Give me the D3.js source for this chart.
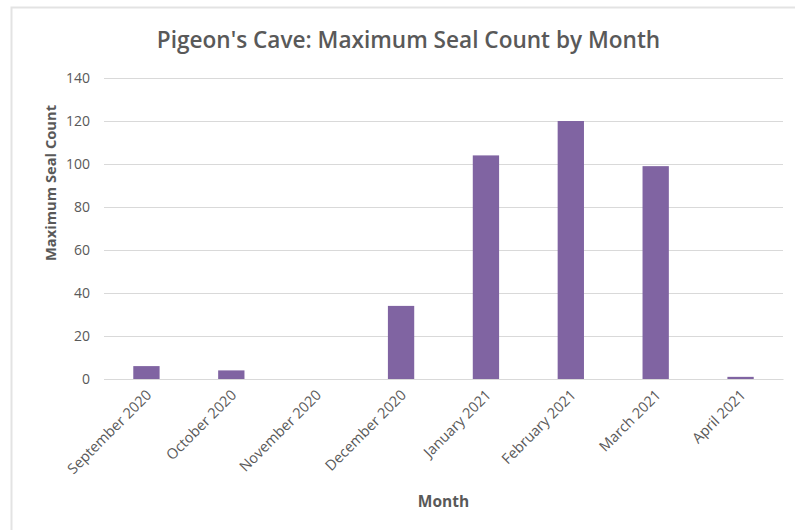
<!DOCTYPE html>
<html>
<head>
<meta charset="utf-8">
<script src="https://cdn.jsdelivr.net/npm/d3@7"></script>
<style>
  html, body { margin: 0; padding: 0; background: #fff; }
  svg { display: block; }
  text { font-family: "Open Sans", "Noto Sans", sans-serif; }
</style>
</head>
<body>
<svg id="chart" width="795" height="530"></svg>
<script>
// Monthly maximum seal counts at Pigeon's Cave
const months = ["September 2020", "October 2020", "November 2020", "December 2020",
                "January 2021", "February 2021", "March 2021", "April 2021"];
const sealCounts = [6, 4, 0, 34, 104, 120, 99, 1];
const yTicks = [0, 20, 40, 60, 80, 100, 120, 140];

const svg = d3.select("#chart");
const W = 795, H = 530;
const plot = { left: 104, right: 783, top: 78, bottom: 379 };

// Light frame around the chart area
svg.append("path")
  .attr("d", `M${11.5},${H} L${11.5},${7.5} L${W},${7.5}`)
  .attr("fill", "none")
  .attr("stroke", "#e3e3e3")
  .attr("stroke-width", 2);

const x = d3.scaleBand()
  .domain(months)
  .range([plot.left, plot.right])
  .paddingInner(0.69)
  .paddingOuter(0.345);

const y = d3.scaleLinear()
  .domain([0, 140])
  .range([plot.bottom, plot.top]);

// Horizontal gridlines and value labels
const yAxis = d3.axisLeft(y)
  .tickValues(yTicks)
  .tickSize(-(plot.right - plot.left))
  .tickPadding(14)
  .tickFormat(d3.format("d"));

const gy = svg.append("g")
  .attr("transform", `translate(${plot.left},0)`)
  .call(yAxis);
gy.select(".domain").remove();
gy.selectAll(".tick line").attr("stroke", "#d9d9d9").attr("stroke-width", 1);
gy.selectAll(".tick text")
  .attr("fill", "#595959")
  .style("font-size", "14px");

// Bars
svg.append("g")
  .selectAll("rect")
  .data(months.map((m, i) => ({ month: m, value: sealCounts[i] })))
  .join("rect")
  .attr("x", d => x(d.month))
  .attr("y", d => y(d.value))
  .attr("width", x.bandwidth())
  .attr("height", d => y(0) - y(d.value))
  .attr("fill", "#8064a2");

// Category axis along the bottom
const xAxis = d3.axisBottom(x).tickSize(0).tickPadding(0);
const gx = svg.append("g")
  .attr("transform", `translate(0,${plot.bottom})`)
  .call(xAxis);
gx.select(".domain").attr("stroke", "#d9d9d9");
gx.selectAll(".tick text")
  .attr("fill", "#595959")
  .style("font-size", "14.5px")
  .attr("text-anchor", "end")
  .attr("dy", 0)
  .attr("transform", "translate(6,17) rotate(-45)");

// Chart title
svg.append("text")
  .attr("x", 408.5)
  .attr("y", 48)
  .attr("text-anchor", "middle")
  .attr("fill", "#595959")
  .style("font-size", "22.6px")
  .style("font-weight", "600")
  .text("Pigeon's Cave: Maximum Seal Count by Month");

// Axis titles
svg.append("text")
  .attr("transform", `translate(56,183) rotate(-90)`)
  .attr("text-anchor", "middle")
  .attr("fill", "#595959")
  .style("font-size", "14.7px")
  .style("font-weight", "700")
  .text("Maximum Seal Count");

svg.append("text")
  .attr("x", (plot.left + plot.right) / 2)
  .attr("y", 507)
  .attr("text-anchor", "middle")
  .attr("fill", "#595959")
  .style("font-size", "15.5px")
  .style("font-weight", "700")
  .text("Month");
</script>
</body>
</html>
